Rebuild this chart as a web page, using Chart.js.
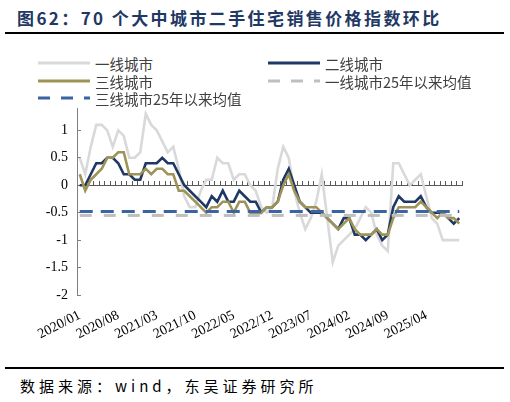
<!DOCTYPE html>
<html>
<head>
<meta charset="utf-8">
<script src="https://cdn.jsdelivr.net/npm/chart.js@4.4.1/dist/chart.umd.min.js"></script>
<style>
  body { margin: 0; width: 510px; height: 402px; background: #fff; position: relative; overflow: hidden;
         font-family: "Noto Sans CJK SC", sans-serif; }
  #title { position: absolute; left: 17px; top: 5px; font-size: 17px; font-weight: bold; color: #1f3864;
           letter-spacing: 2.4px; white-space: nowrap; }
  .rule { position: absolute; left: 5px; width: 499px; height: 2px; background: #000; }
  .item { position: absolute; display: flex; align-items: center; height: 18px; font-size: 14.5px;
          color: #404040; white-space: nowrap; }
  .item svg { margin-right: 5px; }
  #chartBox { position: absolute; left: 0; top: 87px; width: 510px; height: 278px; }
  #source { position: absolute; left: 20px; top: 375px; font-size: 15px; letter-spacing: 4px; color: #000;
            white-space: nowrap; }
</style>
</head>
<body>
<div id="title">图62：70 个大中城市二手住宅销售价格指数环比</div>
<div class="rule" style="top:32px"></div>
<div id="chartBox"><canvas id="myChart"></canvas></div>
<div id="legend"></div>
<div class="rule" style="top:367px"></div>
<div id="source">数据来源：wind，东吴证券研究所</div>
<script>
const months = [
  '2020/01','2020/02','2020/03','2020/04','2020/05','2020/06','2020/07','2020/08','2020/09','2020/10','2020/11','2020/12',
  '2021/01','2021/02','2021/03','2021/04','2021/05','2021/06','2021/07','2021/08','2021/09','2021/10','2021/11','2021/12',
  '2022/01','2022/02','2022/03','2022/04','2022/05','2022/06','2022/07','2022/08','2022/09','2022/10','2022/11','2022/12',
  '2023/01','2023/02','2023/03','2023/04','2023/05','2023/06','2023/07','2023/08','2023/09','2023/10','2023/11','2023/12',
  '2024/01','2024/02','2024/03','2024/04','2024/05','2024/06','2024/07','2024/08','2024/09','2024/10','2024/11','2024/12',
  '2025/01','2025/02','2025/03','2025/04','2025/05','2025/06','2025/07','2025/08','2025/09','2025/10'
]
const shownTicks = ['2020/01','2020/08','2021/03','2021/10','2022/05','2022/12','2023/07','2024/02','2024/09','2025/04']

// 一线城市
const tier1 = [
  0.5, 0.2, 0.7, 1.1, 1.1, 1.0, 0.7, 1.0, 0.9, 0.5, 0.5, 0.6,
  1.3, 1.1, 1.0, 0.8, 0.6, 0.7, 0.3, -0.2, -0.4, -0.4, -0.1, 0.1,
  0.1, 0.5, 0.4, 0.4, 0.1, 0.2, 0.2, 0.0, -0.1, -0.4, -0.5, -0.4,
  0.3, 0.7, 0.5, -0.1, -0.5, -0.8, -0.6, -0.3, 0.2, -0.6, -1.4, -1.1,
  -1.0, -0.9, -0.8, -0.6, -0.4, -0.5, -0.9, -1.1, -1.2, 0.4, 0.4, 0.2,
  0.0, 0.1, 0.2, -0.2, -0.6, -0.7, -1.0, -1.0, -1.0, -1.0
]
// 二线城市
const tier2 = [
  0.0, 0.0, 0.2, 0.4, 0.4, 0.5, 0.5, 0.4, 0.2, 0.2, 0.1, 0.1,
  0.4, 0.4, 0.4, 0.5, 0.4, 0.4, 0.2, 0.0, -0.1, -0.2, -0.3, -0.4,
  -0.2, -0.3, -0.1, -0.3, -0.3, -0.1, -0.2, -0.3, -0.3, -0.5, -0.4, -0.4,
  -0.3, 0.1, 0.3, 0.0, -0.3, -0.4, -0.5, -0.5, -0.5, -0.6, -0.7, -0.8,
  -0.6, -0.6, -0.9, -0.9, -1.0, -0.9, -0.8, -1.0, -0.9, -0.4, -0.2, -0.3,
  -0.3, -0.3, -0.2, -0.4, -0.5, -0.5, -0.5, -0.6, -0.7, -0.6
]
// 三线城市
const tier3 = [
  0.2, -0.1, 0.1, 0.2, 0.3, 0.5, 0.5, 0.6, 0.6, 0.2, 0.2, 0.2,
  0.3, 0.2, 0.3, 0.3, 0.2, 0.2, -0.1, -0.1, -0.2, -0.3, -0.4, -0.5,
  -0.4, -0.4, -0.3, -0.3, -0.5, -0.3, -0.3, -0.5, -0.5, -0.5, -0.4, -0.4,
  -0.3, 0.0, 0.2, -0.1, -0.3, -0.4, -0.4, -0.4, -0.5, -0.6, -0.7, -0.8,
  -0.7, -0.6, -0.8, -0.9, -0.9, -0.9, -0.8, -0.9, -0.9, -0.6, -0.4, -0.4,
  -0.4, -0.4, -0.3, -0.4, -0.5, -0.6, -0.5, -0.6, -0.6, -0.7
]
// 25年以来均值
const tier1Avg25 = -0.55
const tier3Avg25 = -0.48

const serif = '"Liberation Serif", "Times New Roman", serif'

function flatLine(v){
    return [{x: months[0], y: v}, {x: months[months.length - 1], y: v}]
}

const datasets = [
    {label: '一线城市', data: tier1, borderColor: '#d9d9d9', borderWidth: 2.6, order: 4},
    {label: '二线城市', data: tier2, borderColor: '#1f3864', borderWidth: 2.6, order: 3},
    {label: '三线城市', data: tier3, borderColor: '#9e9457', borderWidth: 2.6, order: 2},
    {label: '一线城市25年以来均值', data: flatLine(tier1Avg25), borderColor: '#bfbfbf', borderWidth: 3, borderDash: [12, 12], order: 1},
    {label: '三线城市25年以来均值', data: flatLine(tier3Avg25), borderColor: '#3a64a3', borderWidth: 3, borderDash: [13, 8], order: 0}
]
datasets.forEach(d => { d.pointRadius = 0; d.xAxisID = 'x'; d.yAxisID = 'y' })

const config = {
    type: 'line',
    data: {labels: months, datasets},
    options: {
        responsive: true,
        maintainAspectRatio: false,
        animation: false,
        layout: {padding: {left: 0, right: 48, top: 8, bottom: 0}},
        plugins: {legend: {display: false}, tooltip: {enabled: false}},
        scales: {
            x: {
                type: 'category',
                position: {y: 0},
                offset: true,
                ticks: {display: false},
                grid: {drawOnChartArea: false, offset: true, tickLength: -5, color: '#595959'},
                border: {color: '#595959'}
            },
            xLabels: {
                type: 'category',
                labels: months,
                position: 'bottom',
                offset: true,
                grid: {display: false, drawTicks: false},
                border: {display: false},
                ticks: {
                    autoSkip: false, minRotation: 27, maxRotation: 27, padding: 12,
                    color: '#000', font: {family: serif, size: 14},
                    callback(v){
                        const l = this.getLabelForValue(v)
                        return shownTicks.includes(l) ? l : ''
                    }
                },
                afterFit(s){ s.height = 70 }
            },
            y: {
                min: -2,
                max: 1.4,
                ticks: {
                    stepSize: 0.5, includeBounds: false, padding: 13, color: '#000', font: {family: serif, size: 14},
                    callback: v => String(Math.round(v * 10) / 10)
                },
                grid: {drawOnChartArea: false, tickLength: -4, color: '#7f7f7f'},
                border: {color: '#7f7f7f'},
                afterFit(s){ s.width = 77 }
            }
        }
    }
}

// legend in two columns, like the report
const legendSlots = [[38, 63], [268, 63], [38, 81], [268, 81], [38, 98]]
const legend = document.getElementById('legend')
datasets.forEach((d, i) => {
    const [x, y] = legendSlots[i]
    const dash = d.borderDash ? `stroke-dasharray="12 11"` : ''
    const item = document.createElement('div')
    item.className = 'item'
    item.style.left = x + 'px'
    item.style.top = (y - 9) + 'px'
    item.innerHTML = `<svg width="52" height="4"><line x1="0" y1="2" x2="52" y2="2" stroke="${d.borderColor}" stroke-width="3" ${dash}/></svg>${d.label}`
    legend.appendChild(item)
})

let myChart
document.fonts.load('14px "Liberation Serif"').then(() => {
    myChart = new Chart(document.getElementById('myChart'), config)
})
</script>
</body>
</html>
